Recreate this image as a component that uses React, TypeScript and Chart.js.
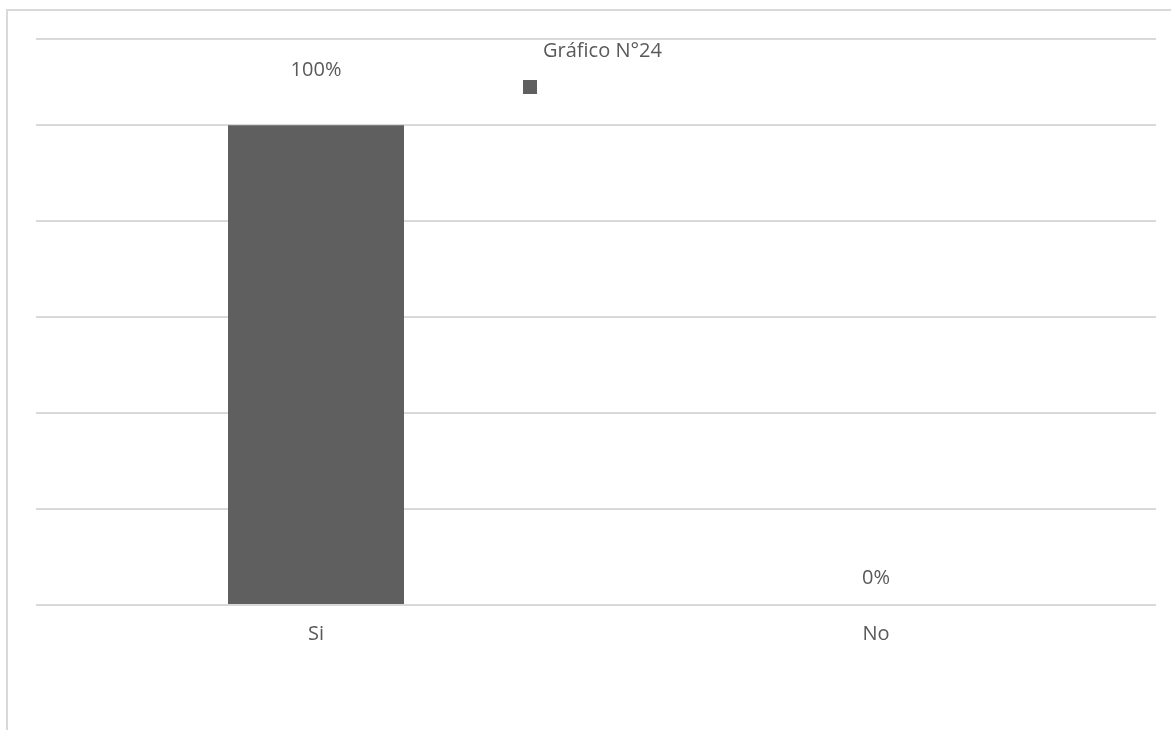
import React, { useEffect, useRef } from "react";
import { Chart, registerables } from "chart.js";

Chart.register(...registerables);

const categories = ["Si", "No"];
const values = [1.0, 0.0];
const valueLabels = ["100%", "0%"];
const gridTicks = [0, 0.2, 0.4, 0.6, 0.8, 1.0, 1.18];
const legendTitle = "Gráfico N°24";

const TEXT = "#595959";
const BAR = "#5f5f5f";
const GRID = "#d9d9d9";
const FONT = "'Open Sans', sans-serif";

const labelPlugin = {
  id: "valueLabels",
  afterDatasetsDraw(chart: any) {
    const ctx = chart.ctx;
    const meta = chart.getDatasetMeta(0);
    const offsets = [55, 27];
    ctx.save();
    ctx.font = `20px ${FONT}`;
    ctx.fillStyle = TEXT;
    ctx.textAlign = "center";
    ctx.textBaseline = "middle";
    meta.data.forEach((el: any, i: number) => {
      ctx.fillText(valueLabels[i], el.x, el.y - offsets[i]);
    });
    ctx.restore();
  },
};

const legendPlugin = {
  id: "customLegend",
  afterDraw(chart: any) {
    const ctx = chart.ctx;
    ctx.save();
    ctx.font = `20px ${FONT}`;
    ctx.fillStyle = TEXT;
    ctx.textAlign = "left";
    ctx.textBaseline = "middle";
    ctx.fillText(legendTitle, 543, 51);
    ctx.fillStyle = BAR;
    ctx.fillRect(523, 80, 14, 14);
    ctx.restore();
  },
};

export default function App() {
  const ref = useRef<HTMLCanvasElement>(null);
  useEffect(() => {
    if (!ref.current) return;
    const chart = new Chart(ref.current, {
      type: "bar",
      data: {
        labels: categories,
        datasets: [
          {
            label: legendTitle,
            data: values,
            backgroundColor: BAR,
            borderWidth: 0,
            categoryPercentage: 1,
            barPercentage: 0.3143,
          },
        ],
      },
      options: {
        animation: false,
        responsive: false,
        maintainAspectRatio: false,
        layout: { padding: { left: 36, right: 15, top: 39, bottom: 67 } },
        plugins: {
          legend: { display: false },
          tooltip: { enabled: false },
          title: { display: false },
        },
        scales: {
          x: {
            grid: { display: false, drawTicks: false },
            border: { display: false },
            ticks: {
              color: TEXT,
              font: { family: FONT, size: 20 },
              padding: 17,
            },
          },
          y: {
            min: 0,
            max: 1.18,
            afterBuildTicks: (scale: any) => {
              scale.ticks = gridTicks.map((v) => ({ value: v }));
            },
            grid: { color: GRID, lineWidth: 2, drawTicks: false },
            border: { display: false },
            ticks: { display: false },
          },
        },
      },
      plugins: [labelPlugin, legendPlugin],
    });
    return () => chart.destroy();
  }, []);

  return (
    <div
      style={{
        position: "fixed",
        left: 0,
        top: 0,
        width: 1171,
        height: 730,
        overflow: "hidden",
        background: "#ffffff",
      }}
    >
      <div
        style={{
          position: "absolute",
          left: 6,
          top: 9,
          width: 1300,
          height: 900,
          borderLeft: `2px solid ${GRID}`,
          borderTop: `2px solid ${GRID}`,
        }}
      />
      <canvas
        ref={ref}
        width={1171}
        height={730}
        style={{ position: "absolute", left: 0, top: 0, width: 1171, height: 730 }}
      />
    </div>
  );
}
